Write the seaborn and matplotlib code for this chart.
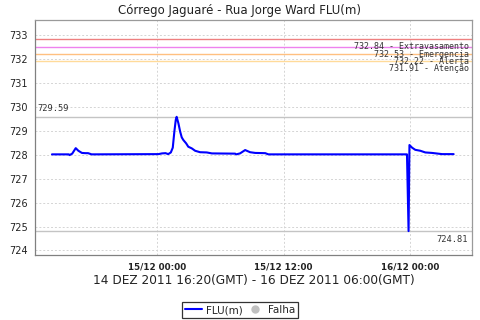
import matplotlib
matplotlib.use("Agg")
import matplotlib.pyplot as plt
import matplotlib.dates as mdates
from matplotlib.lines import Line2D
import seaborn as sns
import pandas as pd

sns.set_theme(style="white")
plt.rcParams['font.family'] = ['DejaVu Sans']

title = "Córrego Jaguaré - Rua Jorge Ward FLU(m)"
xlabel = "14 DEZ 2011 16:20(GMT) - 16 DEZ 2011 06:00(GMT)"
series_name = "FLU(m)"
fail_name = "Falha"

times = [
    "2011-12-14 14:05", "2011-12-14 15:40", "2011-12-14 15:45", "2011-12-14 16:00",
    "2011-12-14 16:20", "2011-12-14 16:35", "2011-12-14 16:55", "2011-12-14 17:15",
    "2011-12-14 17:30", "2011-12-14 17:50",
    "2011-12-15 00:10", "2011-12-15 00:30", "2011-12-15 00:50", "2011-12-15 01:05",
    "2011-12-15 01:20", "2011-12-15 01:31", "2011-12-15 01:40", "2011-12-15 01:48",
    "2011-12-15 01:53", "2011-12-15 02:03", "2011-12-15 02:13", "2011-12-15 02:22",
    "2011-12-15 02:31", "2011-12-15 02:47", "2011-12-15 02:59", "2011-12-15 03:19",
    "2011-12-15 03:38", "2011-12-15 04:06", "2011-12-15 04:44", "2011-12-15 05:13",
    "2011-12-15 07:25", "2011-12-15 07:31", "2011-12-15 07:53", "2011-12-15 08:22",
    "2011-12-15 08:50", "2011-12-15 09:19", "2011-12-15 10:16", "2011-12-15 10:34",
    "2011-12-15 23:41", "2011-12-15 23:50", "2011-12-15 23:55",
    "2011-12-16 00:10", "2011-12-16 00:28", "2011-12-16 00:57", "2011-12-16 01:25",
    "2011-12-16 02:03", "2011-12-16 03:00", "2011-12-16 04:06",
]
levels = [
    728.02, 728.02, 727.99, 728.05,
    728.28, 728.17, 728.08, 728.07,
    728.07, 728.02,
    728.03, 728.06, 728.07, 728.03,
    728.10, 728.30, 728.97, 729.46,
    729.59, 729.32, 728.97, 728.73,
    728.62, 728.48, 728.34, 728.27,
    728.17, 728.11, 728.10, 728.06,
    728.05, 728.02, 728.06, 728.20,
    728.11, 728.08, 728.07, 728.02,
    728.02, 724.81, 728.41,
    728.30, 728.21, 728.17, 728.10,
    728.08, 728.03, 728.03,
]

threshold_values = [732.84, 732.53, 732.22, 731.91]
threshold_names = ["Extravasamento", "Emergencia", "Alerta", "Atenção"]
threshold_colors = ["#EE8080", "#EE82EE", "#FFC080", "#FFDB9A"]

max_value = 729.59
min_value = 724.81

y_ticks = [724, 725, 726, 727, 728, 729, 730, 731, 732, 733]
x_ticks = ["2011-12-15 00:00", "2011-12-15 12:00", "2011-12-16 00:00"]
x_range = ["2011-12-14 12:27", "2011-12-16 05:52"]
y_range = [723.79, 733.66]

df = pd.DataFrame({"time": pd.to_datetime(times), "level": levels})

fig = plt.figure(figsize=(4.8, 3.2), dpi=100)
ax = fig.add_axes([0.0723, 0.2016, 0.9117, 0.7374])

# grid
for yt in y_ticks:
    ax.axhline(yt, color="#D4D4D4", lw=0.7, ls=(0, (2, 2)), zorder=0)
for xt in x_ticks:
    ax.axvline(pd.Timestamp(xt), color="#D4D4D4", lw=0.7, ls=(0, (2, 2)), zorder=0)

# thresholds
for v, c in zip(threshold_values, threshold_colors):
    ax.axhline(v, color=c, lw=1.0, zorder=1)
for v, n in zip(threshold_values, threshold_names):
    ax.annotate(f"{v:.2f} - {n}", xy=(0.993, v), xycoords=("axes fraction", "data"),
                xytext=(0, -5.4), textcoords="offset points", ha="right", va="center",
                fontsize=6, family="DejaVu Sans Mono", color="#333333", zorder=3)

# max / min markers
ax.axhline(max_value, color="#C4C4C4", lw=1.0, zorder=1)
ax.axhline(min_value, color="#C4C4C4", lw=1.0, zorder=1)
ax.annotate(f"{max_value:.2f}", xy=(0.005, max_value), xycoords=("axes fraction", "data"),
            xytext=(0, 5.8), textcoords="offset points", ha="left", va="center",
            fontsize=6.3, family="DejaVu Sans Mono", color="#333333")
ax.annotate(f"{min_value:.2f}", xy=(0.99, min_value), xycoords=("axes fraction", "data"),
            xytext=(0, -6), textcoords="offset points", ha="right", va="center",
            fontsize=6.3, family="DejaVu Sans Mono", color="#333333")

sns.lineplot(data=df, x="time", y="level", ax=ax, color="#0000FF", lw=1.5,
             legend=False, zorder=4)

ax.set_xlim(pd.Timestamp(x_range[0]), pd.Timestamp(x_range[1]))
ax.set_ylim(*y_range)
ax.set_yticks(y_ticks)
ax.set_yticklabels([str(t) for t in y_ticks])
ax.set_xticks([pd.Timestamp(t) for t in x_ticks])
ax.xaxis.set_major_formatter(mdates.DateFormatter("%d/%m %H:%M"))
ax.tick_params(axis="both", direction="out", length=3, width=0.8, color="#808080",
               pad=2, labelcolor="#222222")
ax.tick_params(axis="y", labelsize=7)
ax.tick_params(axis="x", labelsize=6.3)
for lab in ax.get_xticklabels():
    lab.set_fontweight("bold")
for s in ax.spines.values():
    s.set_color("#9A9A9A")
    s.set_linewidth(0.9)
ax.spines["left"].set_color("#808080")
ax.spines["bottom"].set_color("#808080")

ax.set_ylabel("")
ax.set_xlabel(xlabel, fontsize=8.7, color="#222222", labelpad=1.5)
fig.text(0.5, 0.966, title, ha="center", va="center", fontsize=8.5, color="#222222")

handles = [Line2D([], [], color="#0000FF", lw=1.5),
           Line2D([], [], color="#C0C0C0", marker="o", ls="none", markersize=5)]
leg = fig.legend(handles, [series_name, fail_name], loc="center", bbox_to_anchor=(0.5, 0.031),
                 ncol=2, fontsize=7.5, frameon=True, fancybox=False, edgecolor="black",
                 handlelength=1.6, handletextpad=0.4, columnspacing=0.4,
                 borderpad=0.3, borderaxespad=0)
leg.get_frame().set_linewidth(0.9)

fig.savefig("out.png", dpi=100)
